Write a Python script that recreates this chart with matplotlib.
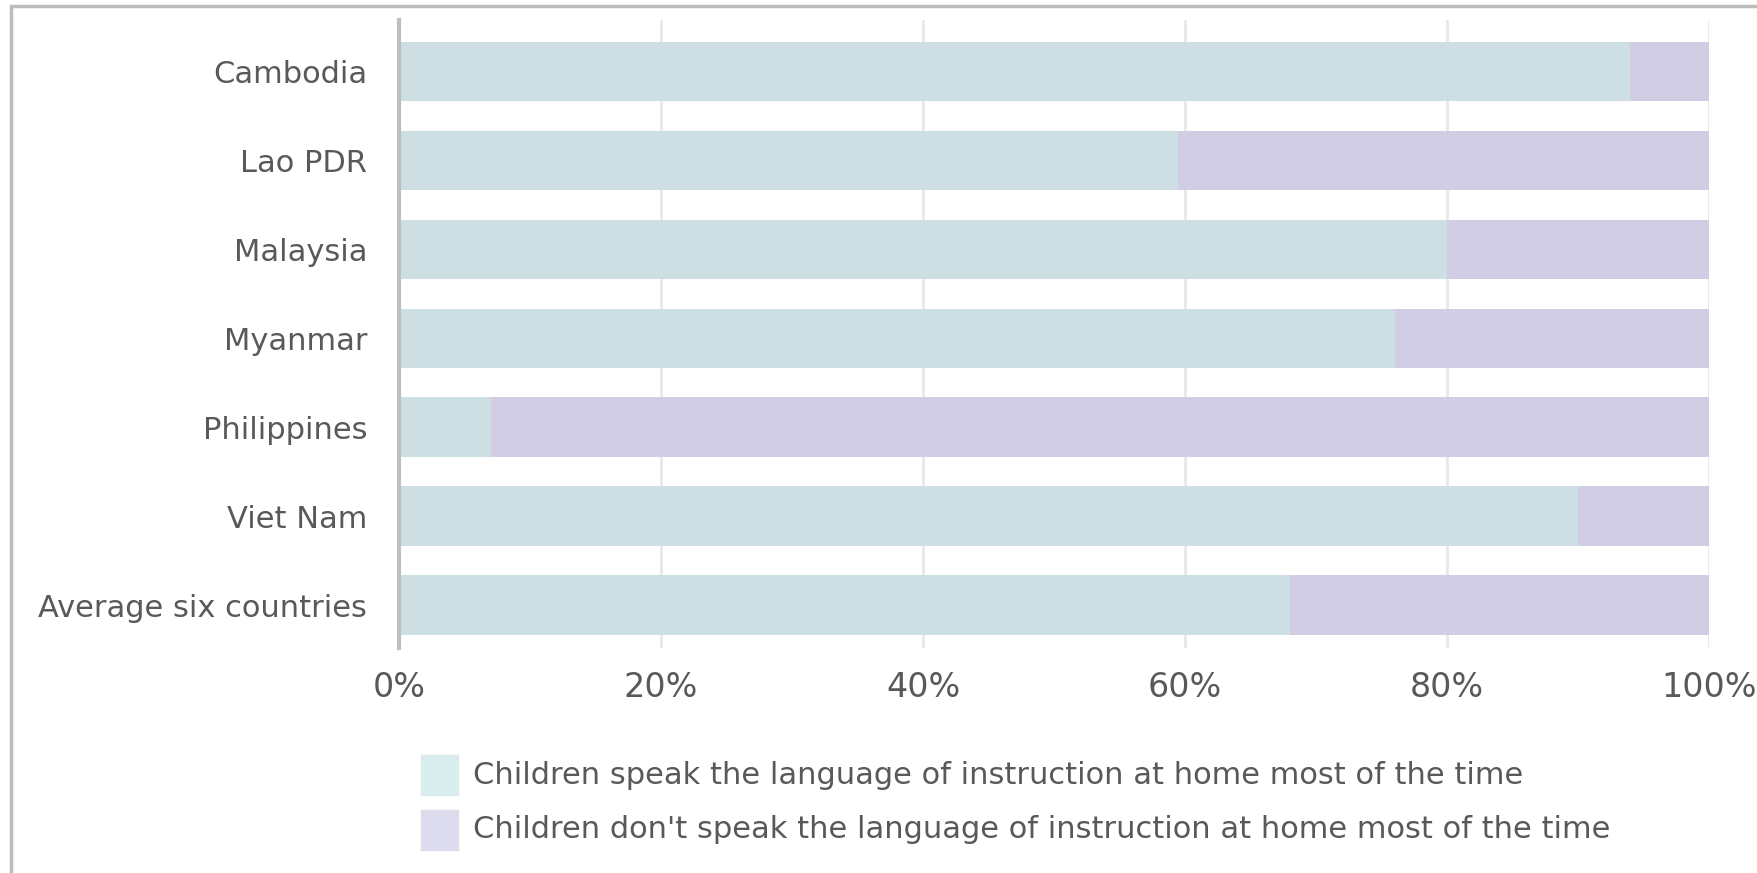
import matplotlib.pyplot as plt
from matplotlib.patches import Rectangle
from matplotlib.ticker import PercentFormatter

# categories, top to bottom
countries = ['Cambodia', 'Lao PDR', 'Malaysia', 'Myanmar', 'Philippines',
             'Viet Nam', 'Average six countries']

# share of children who speak the language of instruction at home (%)
speak = [94, 59.5, 80, 76, 7, 90, 68]
# share who do not
not_speak = [6, 40.5, 20, 24, 93, 10, 32]

legend_labels = ['Children speak the language of instruction at home most of the time',
                 "Children don't speak the language of instruction at home most of the time"]

teal = '#cddfe3'
purple = '#d0cde5'
text_col = '#595959'

plt.rcParams['font.family'] = ['DejaVu Sans']

fig = plt.figure(figsize=(17.57, 8.73), dpi=100)
ax = fig.add_axes([0.2271, 0.258, 0.7456, 0.719])

y = list(range(len(countries)))
ax.barh(y, speak, height=0.67, color=teal, zorder=2)
ax.barh(y, not_speak, left=speak, height=0.67, color=purple, zorder=2)

ax.set_xlim(0, 100)
ax.set_ylim(6.48, -0.58)
ax.set_xticks([0, 20, 40, 60, 80, 100])
ax.xaxis.set_major_formatter(PercentFormatter(decimals=0))
ax.set_yticks(y)
ax.set_yticklabels(countries)
ax.tick_params(axis='y', length=0, pad=23, labelsize=22, labelcolor=text_col)
ax.tick_params(axis='x', length=0, pad=17, labelsize=24, labelcolor=text_col)
ax.grid(axis='x', color='#e8e8e8', linewidth=2, zorder=0)
for side in ['top', 'right', 'bottom']:
    ax.spines[side].set_visible(False)
ax.spines['left'].set_color('#bfbfbf')
ax.spines['left'].set_linewidth(3)
ax.spines['left'].set_zorder(3)

# legend drawn by hand below the plot
legend_cols = ['#d9ecee', '#dcdcee']
for i, (lab, c) in enumerate(zip(legend_labels, legend_cols)):
    yc = 1 - (775 + i * 55) / 873
    fig.patches.append(Rectangle((421 / 1757, yc - 20 / 873), 37 / 1757, 40 / 873,
                                 transform=fig.transFigure, color=c))
    fig.text(473 / 1757, yc, lab, fontsize=22, color=text_col, va='center', ha='left')

# outer frame
fig.patches.append(Rectangle((11 / 1757, -0.05), 1.1, 1 - 6 / 873 + 0.05,
                             transform=fig.transFigure, fill=False,
                             edgecolor='#bdbdbd', linewidth=2.5))

fig.savefig('out.png', dpi=100)
